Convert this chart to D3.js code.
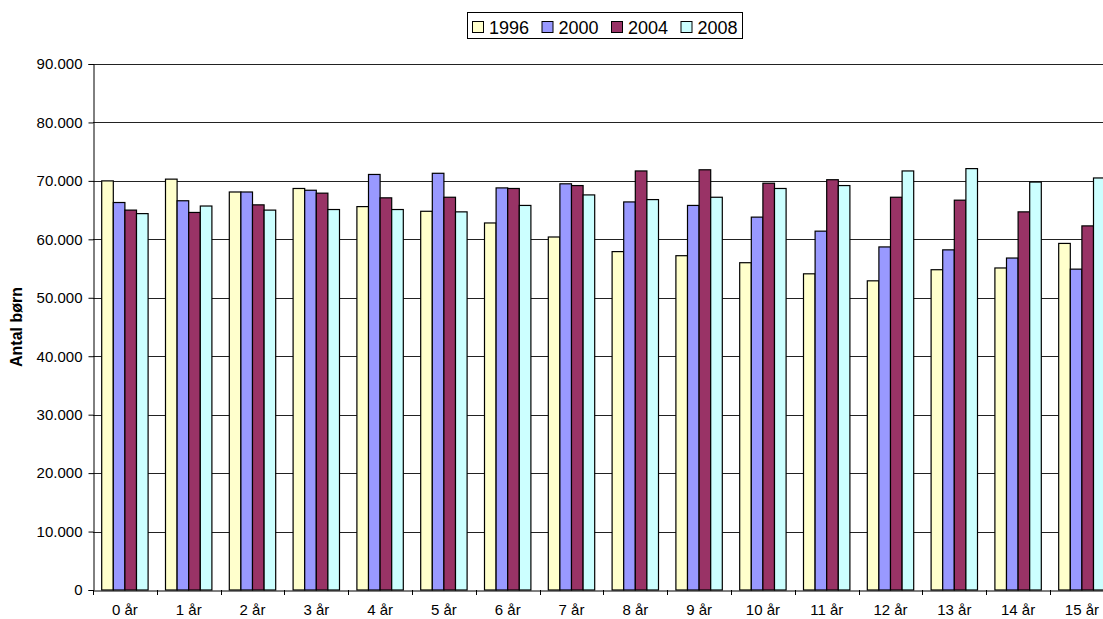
<!DOCTYPE html>
<html>
<head>
<meta charset="utf-8">
<script src="https://cdn.jsdelivr.net/npm/d3@7"></script>
<style>
  body { margin: 0; background: #fff; overflow: hidden; }
  svg { display: block; font-family: "Liberation Sans", Arial, sans-serif; }
</style>
</head>
<body>
<div id="chart"></div>
<script>
'use strict';

var categories = ['0 år', '1 år', '2 år', '3 år', '4 år', '5 år', '6 år', '7 år',
                  '8 år', '9 år', '10 år', '11 år', '12 år', '13 år', '14 år', '15 år'];
var seriesNames = ['1996', '2000', '2004', '2008'];
var seriesColors = ['#ffffcc', '#9999ff', '#993366', '#ccffff'];

var values1996 = [70000, 70300, 68100, 68700, 65600, 64800, 62800, 60400,
                  57900, 57200, 56000, 54100, 52900, 54800, 55100, 59300];
var values2000 = [66300, 66600, 68100, 68400, 71100, 71300, 68800, 69500,
                  66400, 65800, 63800, 61400, 58700, 58200, 56800, 54900];
var values2004 = [65000, 64600, 65900, 67900, 67100, 67200, 68700, 69200,
                  71700, 71900, 69600, 70200, 67200, 66700, 64700, 62300];
var values2008 = [64400, 65700, 65000, 65100, 65100, 64700, 65800, 67600,
                  66800, 67200, 68700, 69200, 71700, 72100, 69800, 70500];

var yTicks = [0, 10000, 20000, 30000, 40000, 50000, 60000, 70000, 80000, 90000];

var allValues = [values1996, values2000, values2004, values2008];

(function () {
    var width = 1103, height = 619;
    var plotLeft = 93, plotTop = 64, plotBottom = 590;
    var step = 63.8;

    var svg = d3.select('#chart')
        .append('svg')
        .attr('width', width)
        .attr('height', height);

    var x0 = d3.scaleBand()
        .domain(categories)
        .range([plotLeft, plotLeft + step * categories.length])
        .padding(0);

    var x1 = d3.scaleBand()
        .domain(seriesNames)
        .range([0, x0.bandwidth()])
        .paddingInner(0)
        .paddingOuter(0.75);

    var y = d3.scaleLinear()
        .domain([0, 90000])
        .range([plotBottom, plotTop]);

    function fmt(v) {
        return v === 0 ? '0' : d3.format(',')(v).replace(/,/g, '.');
    }

    // grid lines
    svg.append('g')
        .selectAll('line')
        .data(yTicks.slice(1))
        .enter()
        .append('line')
        .attr('x1', plotLeft)
        .attr('x2', width)
        .attr('y1', function (d) { return Math.round(y(d)) + 0.5; })
        .attr('y2', function (d) { return Math.round(y(d)) + 0.5; })
        .attr('stroke', '#222')
        .attr('stroke-width', 1);

    // bars
    var groups = svg.append('g')
        .selectAll('g')
        .data(categories)
        .enter()
        .append('g')
        .attr('transform', function (d) { return 'translate(' + x0(d) + ',0)'; });

    groups.selectAll('rect')
        .data(function (d, i) {
            return seriesNames.map(function (s, j) {
                return { series: s, value: allValues[j][i], color: seriesColors[j] };
            });
        })
        .enter()
        .append('rect')
        .attr('x', function (d) { return x1(d.series); })
        .attr('y', function (d) { return y(d.value); })
        .attr('width', x1.bandwidth())
        .attr('height', function (d) { return plotBottom - y(d.value); })
        .attr('fill', function (d) { return d.color; })
        .attr('stroke', '#000')
        .attr('stroke-width', 1.2);

    // y axis
    var yAxis = svg.append('g')
        .attr('transform', 'translate(' + (plotLeft + 0.5) + ',0)')
        .call(d3.axisLeft(y).tickValues(yTicks).tickFormat(fmt).tickSize(5).tickPadding(6));
    yAxis.select('.domain').attr('stroke', '#000');
    yAxis.selectAll('.tick line').attr('stroke', '#000');
    yAxis.selectAll('.tick text')
        .attr('font-size', 15)
        .attr('font-family', '"Liberation Sans", Arial, sans-serif')
        .attr('fill', '#000');

    // x axis
    var xAxis = svg.append('g')
        .attr('transform', 'translate(0,' + (plotBottom + 0.5) + ')')
        .call(d3.axisBottom(x0).tickSize(0).tickPadding(14));
    xAxis.select('.domain').attr('stroke', '#000');
    xAxis.selectAll('.tick text')
        .attr('font-size', 15)
        .attr('font-family', '"Liberation Sans", Arial, sans-serif')
        .attr('fill', '#000');

    // category separators
    svg.append('g')
        .selectAll('line')
        .data(categories)
        .enter()
        .append('line')
        .attr('x1', function (d) { return Math.round(x0(d)) + 0.5; })
        .attr('x2', function (d) { return Math.round(x0(d)) + 0.5; })
        .attr('y1', plotBottom)
        .attr('y2', plotBottom + 5)
        .attr('stroke', '#000');

    // y axis title
    svg.append('text')
        .attr('transform', 'translate(22,' + ((plotTop + plotBottom) / 2) + ') rotate(-90)')
        .attr('text-anchor', 'middle')
        .attr('font-size', 16)
        .attr('font-weight', 'bold')
        .text('Antal børn');

    // legend
    var legend = svg.append('g');
    legend.append('rect')
        .attr('x', 467.5)
        .attr('y', 12.5)
        .attr('width', 275)
        .attr('height', 26)
        .attr('fill', '#fff')
        .attr('stroke', '#000');

    var items = legend.selectAll('g')
        .data(seriesNames)
        .enter()
        .append('g')
        .attr('transform', function (d, i) { return 'translate(' + (472 + i * 69.5) + ',19)'; });

    items.append('rect')
        .attr('x', 0.5)
        .attr('y', 2.5)
        .attr('width', 11)
        .attr('height', 11)
        .attr('fill', function (d, i) { return seriesColors[i]; })
        .attr('stroke', '#000');

    items.append('text')
        .attr('x', 17)
        .attr('y', 15)
        .attr('font-size', 18)
        .text(function (d) { return d; });
})();
</script>
</body>
</html>
